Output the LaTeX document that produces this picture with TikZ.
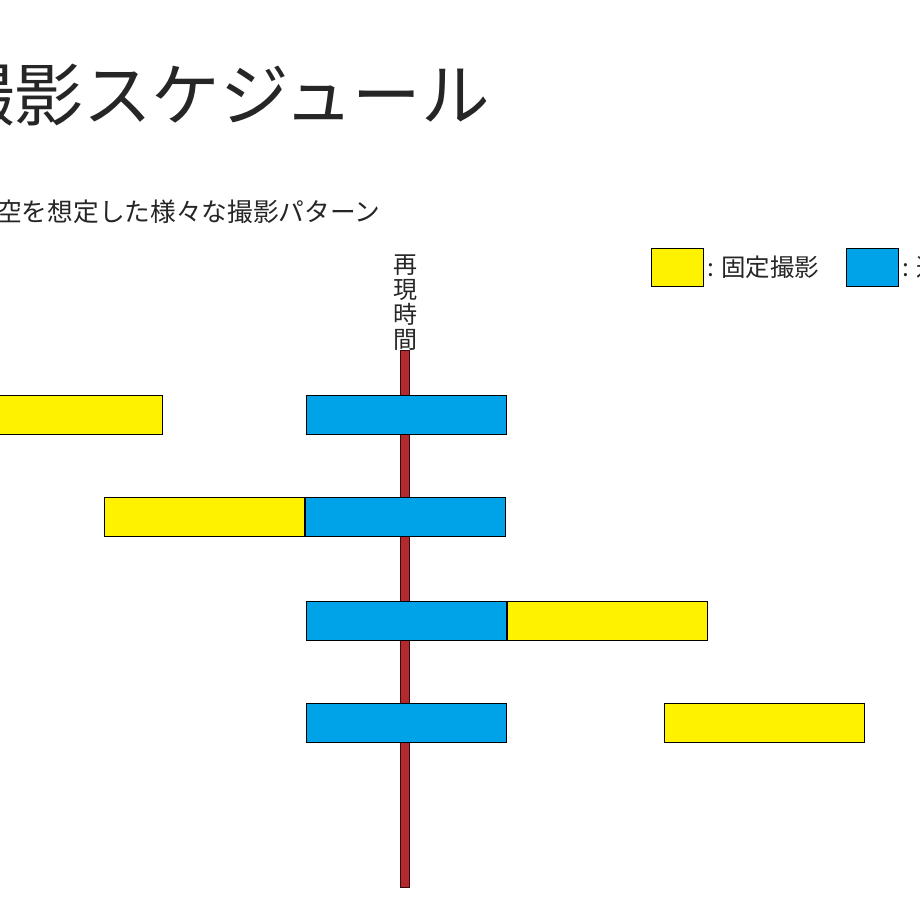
\documentclass[tikz,border=0pt]{standalone}
\usepackage{fontspec}
\setmainfont{Noto Sans CJK JP}
\definecolor{barY}{HTML}{FFF200}
\definecolor{barB}{HTML}{00A2E8}
\definecolor{lineR}{HTML}{B22A2E}
\definecolor{txt}{HTML}{262626}
\begin{document}
\begin{tikzpicture}[x=1pt,y=-1pt,
  bar/.style={draw=black,line width=0.8pt,minimum width=200pt,minimum height=39pt,inner sep=0pt,anchor=north west},
  fixbar/.style={bar,fill=barY},
  movbar/.style={bar,fill=barB},
  lgbox/.style={draw=black,line width=0.8pt,minimum width=52pt,minimum height=38pt,inner sep=0pt,anchor=north west},
  lbl/.style={text=txt,inner sep=0pt}]
\useasboundingbox (0,0) rectangle (920,920);
\clip (0,0) rectangle (920,920);
\fill[white] (0,0) rectangle (920,920);
% title and subtitle
\node[lbl,anchor=west,font=\fontsize{68.6}{72}\selectfont] (title) at (-54,95) {撮影スケジュール};
\node[lbl,anchor=west,font=\fontsize{25.7}{29}\selectfont] (sub) at (-4,212) {空を想定した様々な撮影パターン};
% time axis
\node[draw=black!70!lineR,fill=lineR,line width=0.6pt,minimum width=9pt,minimum height=537pt,inner sep=0pt,anchor=north] (axis) at (405,350) {};
\node[lbl,anchor=south,align=center,font=\fontsize{24}{25}\selectfont] (axislbl) at ([yshift=-1pt]axis.north) {再\\現\\時\\間};
% legend
\node[lgbox,fill=barY] (lgY) at (651,248) {};
\node[lbl,anchor=west,font=\fontsize{24.5}{28}\selectfont] (lgYt) at ([xshift=3pt]lgY.east) {: 固定撮影};
\node[lgbox,fill=barB] (lgB) at (846,248) {};
\node[lbl,anchor=west,font=\fontsize{24.5}{28}\selectfont] (lgBt) at ([xshift=3pt]lgB.east) {: 追従撮影};
% rows
\node[fixbar] (y1) at (-38,395) {};
\node[movbar] (b1) at (306,395) {};
\node[fixbar] (y2) at (104,497) {};
\node[movbar] (b2) at (y2.north east) {};
\node[movbar] (b3) at (306,601) {};
\node[fixbar] (y3) at (b3.north east) {};
\node[movbar] (b4) at (306,703) {};
\node[fixbar] (y4) at (664,703) {};
\end{tikzpicture}
\end{document}
